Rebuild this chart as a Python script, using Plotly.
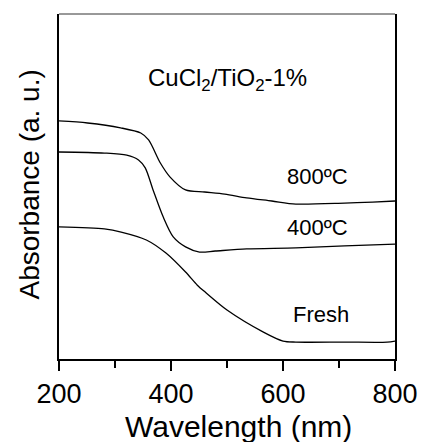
import plotly.graph_objects as go

# UV-vis diffuse reflectance spectra of CuCl2/TiO2-1% samples
wl_800 = [200, 251, 310, 346, 360, 381, 398, 426, 460, 496, 535, 580, 623, 710, 760, 800]
abs_800 = [0.690, 0.684, 0.670, 0.655, 0.635, 0.568, 0.528, 0.490, 0.484, 0.478, 0.467, 0.458, 0.449, 0.452, 0.455, 0.458]

wl_400 = [200, 281, 321, 342, 354, 368, 386, 404, 426, 451, 479, 535, 623, 710, 800]
abs_400 = [0.600, 0.597, 0.591, 0.577, 0.554, 0.490, 0.412, 0.354, 0.325, 0.310, 0.313, 0.319, 0.322, 0.328, 0.333]

wl_fresh = [200, 281, 311, 356, 391, 426, 447, 461, 500, 565, 600, 623, 710, 786, 800]
abs_fresh = [0.383, 0.377, 0.368, 0.345, 0.307, 0.252, 0.214, 0.194, 0.142, 0.078, 0.052, 0.049, 0.049, 0.049, 0.052]

series = [("800ºC", wl_800, abs_800), ("400ºC", wl_400, abs_400), ("Fresh", wl_fresh, abs_fresh)]

# label placement (wavelength, absorbance) for each curve
label_pos = {"800ºC": (661, 0.530), "400ºC": (661, 0.380), "Fresh": (667, 0.129)}

FONT = "Arial, Liberation Sans, sans-serif"

# plot-area geometry in pixels
L, R, T, B = 59, 401, 14, 359
W, H = R - L, B - T

fig = go.Figure()
for name, x, y in series:
    fig.add_trace(go.Scatter(x=x, y=y, mode="lines", name=name,
                             line=dict(color="black", width=1.3, shape="spline", smoothing=0.8),
                             showlegend=False, hoverinfo="skip"))
    lx, ly = label_pos[name]
    fig.add_annotation(x=lx, y=ly, text=name, showarrow=False,
                       font=dict(family=FONT, size=22, color="black"))

fig.add_annotation(x=(230 - L) / W, y=(B - 62) / H, xref="paper", yref="paper",
                   text="CuCl<sub>2</sub>/TiO<sub>2</sub>-1%", showarrow=False,
                   font=dict(family=FONT, size=24, color="black"))

# axis titles
fig.add_annotation(x=(242 - L) / W, y=-(426 - B) / H, xref="paper", yref="paper",
                   text="Wavelength (nm)", showarrow=False, xanchor="center", yanchor="middle",
                   font=dict(family=FONT, size=30, color="black"))
fig.add_annotation(x=-(L - 28) / W, y=(B - 185) / H, xref="paper", yref="paper",
                   text="Absorbance (a. u.)", textangle=-90, showarrow=False,
                   xanchor="center", yanchor="middle",
                   font=dict(family=FONT, size=28, color="black"))

# thin top frame line
fig.add_shape(type="line", xref="paper", yref="paper", x0=0, x1=1, y0=1, y1=1,
              line=dict(color="#333333", width=1))

fig.update_xaxes(range=[200, 800], tickvals=[200, 400, 600, 800], ticks="outside",
                 ticklen=10, tickwidth=1.5, tickcolor="black",
                 minor=dict(dtick=100, tick0=200, ticks="outside", ticklen=7, tickwidth=1.5, tickcolor="black"),
                 showline=True, linewidth=2, linecolor="black", showgrid=False, zeroline=False,
                 tickfont=dict(family=FONT, size=27, color="black"))
fig.update_yaxes(range=[0, 1], showticklabels=False, ticks="", showline=True, linewidth=2,
                 linecolor="black", mirror=True, showgrid=False, zeroline=False)

fig.update_layout(width=430, height=442, margin=dict(l=L, r=430 - R, t=T, b=442 - B),
                  plot_bgcolor="white", paper_bgcolor="white")

fig.write_html("out.html")
